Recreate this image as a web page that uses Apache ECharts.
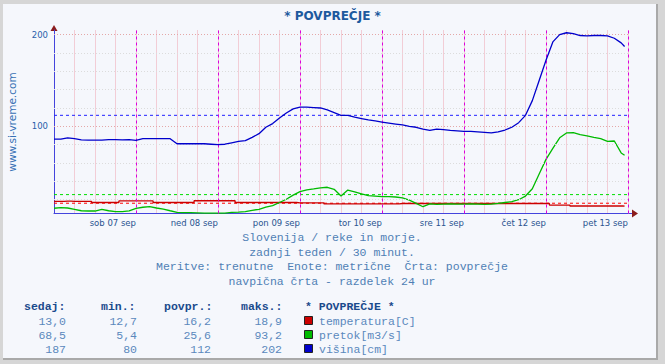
<!DOCTYPE html>
<html><head><meta charset="utf-8">
<script src="https://cdn.jsdelivr.net/npm/echarts@6/dist/echarts.min.js"></script>
<style>
html,body{margin:0;padding:0;width:665px;height:364px;overflow:hidden;background:#d6d6d6;}
#panel{position:absolute;left:3px;top:4px;width:653px;height:354px;background:#f5f7fc;border-right:2px solid #a9a9a9;border-bottom:2px solid #a9a9a9;}
#c{position:absolute;left:0;top:0;width:665px;height:364px;}
</style></head><body><div id="panel"></div><div id="c"></div>
<script>
// x positions: hours since start of week (every 2 h, last point at 167 h)
const hours = [];
for (let h = 0; h <= 166; h += 2) hours.push(h);
hours.push(167);

const dayLabels = ['sob 07 sep','ned 08 sep','pon 09 sep','tor 10 sep','sre 11 sep','čet 12 sep','pet 13 sep'];
const yLabels = [100, 200];

const temperatura = [
  18.2,18.2,18.5,18.2,18.2,18.2, 17,17,17,17,
  18.7,18.7,18.7,18.7,18.7, 17,17,17,17,17,17,
  18.9,18.9,18.9,18.9,18.9,18.9, 17,17,17,17,17,17,17,17,17,
  16.6,16.6,16.6,16.6,
  15.4,15.4,15.4,15.4,15.4,15.4,15.4,15.4,15.4,15.4,15.4,
  15.9,15.9,15.9,15.9,15.9,15.9,15.9,15.9,15.9,15.9,15.9,15.9,15.9,15.9,15.9,15.9,15.9,15.9,15.9,15.9,15.9,15.9,
  14.2,14.2,14.2,
  13.2,13.2,13.2,13.2,13.2,13.2,13.2,13.2,
  13.0
];
const pretok = [
  10.7,11.3,11,9.6,8,7.7,7.7,9.4,8,7,
  7,7.8,10.5,11.8,12.4,11,9.8,8,6.3,6,
  5.9,5.7,5.4,5.4,5.4,5.4,6.3,6.5,7,8.5,
  9.6,12,13.5,17,20.5,25,28.8,30.8,31.8,33,
  33.6,31.4,24,30.5,28.5,26.5,24.5,24,23.4,23.4,
  23,22,19.5,16.1,12.4,15.4,15,15.2,15.4,15.2,
  15.3,15.4,15.2,15,15.2,16,17,17.9,20,24,
  32,48,64,76,87.5,92.8,93.2,91,89.7,88,
  86.5,83.5,84,71,
  68.5
];
const visina = [
  86,86,87.5,86.5,85.3,85,85,85,85.5,85.5,
  85.3,85.5,84.8,86.5,86.7,86.5,86.7,86.5,81,81,
  81,81,81,80.5,80,80.5,82,83.5,84.5,88,
  92,99,103,109,114.5,119,121,121,120.5,120,
  118,115,112,112,110,108.5,107,106,104.5,103.5,
  102.5,101.5,100,99,97,95.5,97,96.5,95.5,95,
  94.5,94.5,94,93.5,92.8,94,96,99,104,112,
  128,150,172,192,200,202,201,199,198.5,199,
  199,198.5,196,191,
  187
];
const averages = [16.2, 25.6, 112];

const seriesNames = ['temperatura[C]','pretok[m3/s]','višina[cm]'];
const seriesColors = ['#cc0000','#00bb00','#0000cc'];
const avgColors = ['#ff0000','#00dd00','#2020ff'];
const statHeaders = ['sedaj:','min.:','povpr.:','maks.:'];
const statSedaj = ['13,0','68,5','187'];
const statMin = ['12,7','5,4','80'];
const statPovpr = ['16,2','25,6','112'];
const statMaks = ['18,9','93,2','202'];
const footerLines = [
  'Slovenija / reke in morje.',
  'zadnji teden / 30 minut.',
  'Meritve: trenutne  Enote: metrične  Črta: povprečje',
  'navpična črta - razdelek 24 ur'
];

function pairs(vals){ return vals.map((v,i)=>[hours[i], v]); }

const gridMajor = [{yAxis: 100}, {yAxis: 200}];
const gridMinor = [];
for (let v = 20; v <= 180; v += 20) if (v !== 100) gridMinor.push({yAxis: v});
const dayLines = [];
for (let h = 24; h <= 168; h += 24) dayLines.push({xAxis: h});

const chart = echarts.init(document.getElementById('c'), null, {renderer: 'svg'});

const mono = 'Liberation Mono, DejaVu Sans Mono, monospace';
const graphic = [];
graphic.push({type:'text', left: 'center', top: 10, style: {text: '* POVPREČJE *', font: 'bold 12px DejaVu Sans', fill: '#1d5a9e'}});
graphic.push({type:'text', x: 12, y: 122, rotation: Math.PI/2, style: {text: 'www.si-vreme.com', font: '10.5px DejaVu Sans', fill: '#3670b4', align: 'center', verticalAlign: 'middle'}});
// axis arrows
graphic.push({type:'polygon', shape: {points: [[50.5,31],[57.5,31],[54,25]]}, style: {fill: '#8b1c1c'}});
graphic.push({type:'line', shape: {x1: 628, y1: 213.5, x2: 633, y2: 213.5}, style: {stroke: '#4444dd', lineWidth: 1}});
graphic.push({type:'polygon', shape: {points: [[632,209.5],[632,217.5],[638,213.5]]}, style: {fill: '#8b1c1c'}});
// footer
const footerY = [237, 252, 266, 281];
footerLines.forEach((t,i)=>{
  graphic.push({type:'text', x: 332, y: footerY[i], style: {text: t, font: '11.5px ' + mono, fill: '#4f7fb5', align: 'center', verticalAlign: 'middle'}});
});
// table
const hdrX = [24, 101, 164, 241];
statHeaders.forEach((t,i)=>{
  graphic.push({type:'text', x: hdrX[i], y: 306, style: {text: t, font: 'bold 11.5px ' + mono, fill: '#1a4a8c', verticalAlign: 'middle'}});
});
graphic.push({type:'text', x: 305, y: 306, style: {text: '* POVPREČJE *', font: 'bold 11.5px ' + mono, fill: '#1a4a8c', verticalAlign: 'middle'}});
const colRight = [66, 137, 211, 282];
const rowY = [321, 335, 349];
[statSedaj, statMin, statPovpr, statMaks].forEach((col, ci)=>{
  col.forEach((t, ri)=>{
    graphic.push({type:'text', x: colRight[ci], y: rowY[ri], style: {text: t, font: '11.5px ' + mono, fill: '#5a88bd', align: 'right', verticalAlign: 'middle'}});
  });
});
seriesNames.forEach((n, ri)=>{
  graphic.push({type:'rect', shape: {x: 304.5, y: rowY[ri]-4.5, width: 8, height: 8}, style: {fill: seriesColors[ri], stroke: '#222', lineWidth: 1}});
  graphic.push({type:'text', x: 319, y: rowY[ri], style: {text: n, font: '11.5px ' + mono, fill: '#5a88bd', verticalAlign: 'middle'}});
});

const avgSeries = averages.map((a, i)=>({
  type: 'line', silent: true, showSymbol: false, z: 2,
  data: [[0, a], [168, a]],
  lineStyle: {color: avgColors[i], type: [3,3], width: 1}
}));

const dataSeries = [temperatura, pretok, visina].map((vals, i)=>({
  name: seriesNames[i],
  type: 'line',
  data: pairs(vals),
  showSymbol: false,
  step: i === 0 ? 'middle' : false,
  lineStyle: {color: seriesColors[i], width: 1.3},
  itemStyle: {color: seriesColors[i]},
  z: 3 + i
}));

const mlBase = {silent: true, symbol: 'none', label: {show: false}, emphasis: {disabled: true}};

chart.setOption({
  animation: false,
  backgroundColor: 'transparent',
  grid: {left: 54, top: 30, width: 574, height: 183.5},
  xAxis: {
    type: 'value', min: 0, max: 168, interval: 6,
    axisLine: {lineStyle: {color: '#4444dd', width: 1}},
    axisTick: {show: false},
    axisLabel: {
      showMinLabel: false, showMaxLabel: true,
      formatter: v => (v > 0 && v % 24 === 0) ? dayLabels[v/24 - 1] : '',
      align: 'right', margin: 5, color: '#2a5490', fontSize: 8.5, fontFamily: 'DejaVu Sans'
    },
    splitLine: {show: true, lineStyle: {color: '#f2cdd6', width: 1}}
  },
  yAxis: {
    type: 'value', min: 5, max: 205,
    axisLine: {show: true, lineStyle: {color: '#4444dd', width: 1}},
    axisTick: {show: false},
    axisLabel: {customValues: yLabels, color: '#2a60aa', fontSize: 8.5, fontFamily: 'DejaVu Sans', margin: 6},
    splitLine: {show: false}
  },
  graphic: graphic,
  series: [
    {type: 'line', data: [], z: 1, silent: true,
     markLine: Object.assign({}, mlBase, {lineStyle: {color: '#dcdcdc', type: [1,2], width: 1, opacity: 1}, data: gridMinor})},
    {type: 'line', data: [], z: 1, silent: true,
     markLine: Object.assign({}, mlBase, {lineStyle: {color: '#e4a8a8', type: [1,2], width: 1, opacity: 1}, data: gridMajor})},
    {type: 'line', data: [], z: 2, silent: true,
     markLine: Object.assign({}, mlBase, {lineStyle: {color: '#dd00dd', type: [3,3], width: 1, opacity: 1}, data: dayLines})}
  ].concat(avgSeries, dataSeries)
});
</script></body></html>
